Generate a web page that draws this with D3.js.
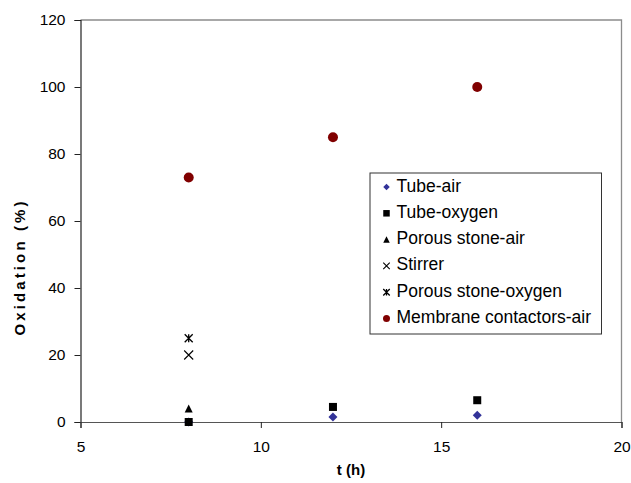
<!DOCTYPE html>
<html>
<head>
<meta charset="utf-8">
<script src="https://cdn.jsdelivr.net/npm/d3@7"></script>
<style>
  html, body { margin: 0; padding: 0; background: #fff; }
  svg { display: block; font-family: "Liberation Sans", Arial, sans-serif; }
</style>
</head>
<body>
<svg id="chart" width="631" height="483"></svg>
<script>
// Oxidation over time for different aeration methods
const seriesNames = ["Tube-air", "Tube-oxygen", "Porous stone-air", "Stirrer", "Porous stone-oxygen", "Membrane contactors-air"];
const tubeAirT = [8, 12, 16];
const tubeAirV = [0, 1.5, 2];
const tubeOxygenT = [8, 12, 16];
const tubeOxygenV = [0, 4.5, 6.5];
const porousAirT = [8];
const porousAirV = [4];
const stirrerT = [8];
const stirrerV = [20];
const porousOxygenT = [8];
const porousOxygenV = [25];
const membraneT = [8, 12, 16];
const membraneV = [73, 85, 100];
const xTicks = [5, 10, 15, 20];
const yTicks = [0, 20, 40, 60, 80, 100, 120];

const svg = d3.select("#chart");
const margin = { left: 80.5, right: 9.5, top: 20, bottom: 61 };
const W = 631, H = 483;

const x = d3.scaleLinear().domain([5, 20]).range([margin.left, W - margin.right]);
const y = d3.scaleLinear().domain([0, 120]).range([H - margin.bottom, margin.top]);

// plot frame (top and right edges)
svg.append("path")
  .attr("d", `M${x(5)},${y(120)}H${x(20)}V${y(0)}`)
  .attr("fill", "none").attr("stroke", "#8c8c8c").attr("stroke-width", 1.3);

// axes
const yAxis = svg.append("g")
  .attr("transform", `translate(${x(5)},0)`)
  .call(d3.axisLeft(y).tickValues(yTicks).tickSize(6).tickPadding(9));
const xAxis = svg.append("g")
  .attr("transform", `translate(0,${y(0)})`)
  .call(d3.axisBottom(x).tickValues(xTicks).tickSize(6).tickPadding(13));
[yAxis, xAxis].forEach(g => {
  g.selectAll("path").attr("stroke", "#222").attr("stroke-width", 1.2);
  g.selectAll("line").attr("stroke", "#222");
  g.selectAll("text").attr("font-size", 15.5).attr("fill", "#000")
    .attr("font-family", "Liberation Sans, Arial, sans-serif");
});
xAxis.select(".domain").attr("stroke", "#555");

// axis titles
svg.append("text")
  .attr("transform", `translate(25,268.5) rotate(-90)`)
  .attr("text-anchor", "middle")
  .attr("font-size", 15).attr("font-weight", "bold")
  .attr("textLength", 134).attr("lengthAdjust", "spacing")
  .text("Oxidation (%)");
svg.append("text")
  .attr("x", (x(5) + x(20)) / 2).attr("y", 475)
  .attr("text-anchor", "middle")
  .attr("font-size", 15).attr("font-weight", "bold")
  .text("t (h)");

// marker shapes
function drawMarker(g, kind, s) {
  if (kind === "diamond") {
    g.append("path").attr("d", `M0,${-s/2}L${s/2},0L0,${s/2}L${-s/2},0Z`).attr("fill", "#333399");
  } else if (kind === "square") {
    g.append("rect").attr("x", -s/2).attr("y", -s/2).attr("width", s).attr("height", s).attr("fill", "#000");
  } else if (kind === "triangle") {
    g.append("path").attr("d", `M0,${-s/2}L${s/2},${s/2}L${-s/2},${s/2}Z`).attr("fill", "#000");
  } else if (kind === "cross") {
    const h = s / 2;
    g.append("path").attr("d", `M${-h},${-h}L${h},${h}M${h},${-h}L${-h},${h}`)
      .attr("stroke", "#000").attr("stroke-width", 1.1).attr("fill", "none");
  } else if (kind === "star") {
    const h = s / 2;
    g.append("path").attr("d", `M${-h},${-h}L${h},${h}M${h},${-h}L${-h},${h}M0,${-h}V${h}`)
      .attr("stroke", "#000").attr("stroke-width", 1.3).attr("fill", "none");
  } else if (kind === "circle") {
    g.append("circle").attr("r", s / 2).attr("fill", "#800000");
  }
}

const series = [
  { name: seriesNames[0], t: tubeAirT, v: tubeAirV, kind: "diamond", size: 9 },
  { name: seriesNames[1], t: tubeOxygenT, v: tubeOxygenV, kind: "square", size: 8 },
  { name: seriesNames[2], t: porousAirT, v: porousAirV, kind: "triangle", size: 8 },
  { name: seriesNames[3], t: stirrerT, v: stirrerV, kind: "cross", size: 9 },
  { name: seriesNames[4], t: porousOxygenT, v: porousOxygenV, kind: "star", size: 8 },
  { name: seriesNames[5], t: membraneT, v: membraneV, kind: "circle", size: 10 }
];

// data points
series.forEach(s => {
  s.t.forEach((t, i) => {
    const g = svg.append("g").attr("transform", `translate(${x(t)},${y(s.v[i])})`);
    drawMarker(g, s.kind, s.size);
  });
});

// legend
const lg = svg.append("g").attr("transform", "translate(370,173)");
lg.append("rect").attr("x", 0).attr("y", 0).attr("width", 231.5).attr("height", 161)
  .attr("fill", "#fff").attr("stroke", "#333").attr("stroke-width", 1);
series.forEach((s, i) => {
  const cy = 12.5 + i * 26.3;
  const g = lg.append("g").attr("transform", `translate(16.5,${cy + 1.5})`);
  drawMarker(g, s.kind, s.kind === "circle" ? 7 : 6.5);
  lg.append("text").attr("x", 26.5).attr("y", cy + 6)
    .attr("font-size", 17.5).attr("fill", "#000")
    .text(s.name);
});
</script>
</body>
</html>
